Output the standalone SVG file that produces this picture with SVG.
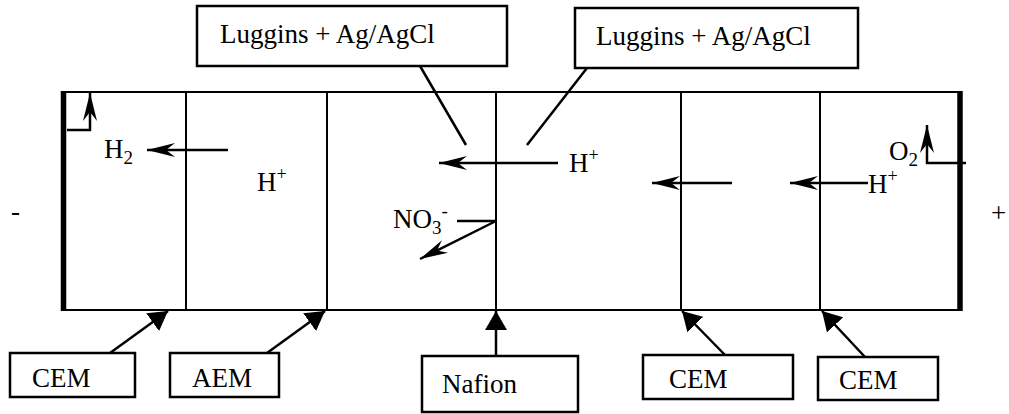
<svg xmlns="http://www.w3.org/2000/svg" width="1009" height="414" viewBox="0 0 1009 414">
<defs>
<style>
.t{font-family:'Liberation Serif','Times New Roman',Tinos,'DejaVu Serif',serif;font-size:27px;fill:#000}
.box{fill:#fff;stroke:#000;stroke-width:2.5}
.ln{fill:none;stroke:#000;stroke-width:2.5}
.wall{fill:none;stroke:#000;stroke-width:2}
.thick{fill:none;stroke:#000;stroke-width:5.5}
.ar{fill:none;stroke:#000;stroke-width:2.5;marker-end:url(#barb)}
.tr{fill:none;stroke:#000;stroke-width:2.5;marker-end:url(#tri)}
</style>
<marker id="barb" markerUnits="userSpaceOnUse" markerWidth="30" markerHeight="14" refX="28" refY="7" orient="auto" viewBox="0 0 30 14">
<path d="M0,0 L28,7 L0,14 L9,7 z" fill="#000"/>
</marker>
<marker id="tri" markerUnits="userSpaceOnUse" markerWidth="20" markerHeight="22" refX="19" refY="11" orient="auto" viewBox="0 0 20 22">
<path d="M0,0 L19,11 L0,22 z" fill="#000"/>
</marker>
</defs>
<rect width="1009" height="414" fill="#fff"/>

<g id="cell">
<line class="wall" x1="63" y1="92" x2="960" y2="92"/>
<line class="wall" x1="63" y1="310" x2="960" y2="310"/>
<line class="thick" x1="63.5" y1="91" x2="63.5" y2="311"/>
<line class="thick" x1="960" y1="91" x2="960" y2="311"/>
<line class="wall" x1="186" y1="92" x2="186" y2="310"/>
<line class="wall" x1="327" y1="92" x2="327" y2="310"/>
<line class="wall" x1="496" y1="92" x2="496" y2="310"/>
<line class="wall" x1="681" y1="92" x2="681" y2="310"/>
<line class="wall" x1="820" y1="92" x2="820" y2="310"/>
</g>

<g id="labels">
<text class="t" x="104" y="158">H<tspan font-size="19" dy="6">2</tspan></text>
<text class="t" x="257" y="191">H<tspan font-size="18" dy="-11">+</tspan></text>
<text class="t" x="569" y="172">H<tspan font-size="18" dy="-11">+</tspan></text>
<text class="t" x="868" y="193">H<tspan font-size="18" dy="-11">+</tspan></text>
<text class="t" x="889" y="160">O<tspan font-size="19" dy="6">2</tspan></text>
<text class="t" x="393" y="228">NO<tspan font-size="19" dy="6">3</tspan><tspan font-size="19" dy="-17">-</tspan></text>
<text class="t" x="11" y="220">-</text>
<text class="t" x="991" y="222">+</text>
</g>

<g id="luggins1">
<rect class="box" x="197" y="6" width="310" height="60"/>
<text class="t" x="220" y="43">Luggins + Ag/AgCl</text>
</g>
<g id="luggins2">
<rect class="box" x="575" y="8" width="283" height="60"/>
<text class="t" x="596" y="45">Luggins + Ag/AgCl</text>
</g>
<g id="cem1">
<rect class="box" x="10" y="353" width="125" height="44"/>
<text class="t" x="32" y="387">CEM</text>
</g>
<g id="aem">
<rect class="box" x="170" y="353" width="109" height="44"/>
<text class="t" x="192" y="387">AEM</text>
</g>
<g id="nafion">
<rect class="box" x="422" y="356" width="156" height="56"/>
<text class="t" x="442" y="393">Nafion</text>
</g>
<g id="cem3">
<rect class="box" x="643" y="355" width="150" height="44"/>
<text class="t" x="669" y="388">CEM</text>
</g>
<g id="cem4">
<rect class="box" x="818" y="357" width="120" height="43"/>
<text class="t" x="839" y="389">CEM</text>
</g>

<g id="connectors">
<line class="ln" x1="420" y1="66" x2="466" y2="145"/>
<line class="ln" x1="587" y1="68" x2="527" y2="145"/>
<line class="ar" x1="228" y1="150" x2="147" y2="150"/>
<path class="ar" d="M67,130 H90 V93"/>
<line class="ar" x1="558" y1="163" x2="439" y2="163"/>
<line class="ar" x1="732" y1="183" x2="652" y2="183"/>
<line class="ar" x1="868" y1="183" x2="790" y2="183"/>
<path class="ar" d="M966,163 H927 V125"/>
<line class="ln" x1="457" y1="221" x2="496" y2="221"/>
<line class="ar" x1="496" y1="221" x2="420" y2="259"/>
<line class="tr" x1="110" y1="353" x2="168" y2="311"/>
<line class="tr" x1="267" y1="353" x2="325" y2="311"/>
<line class="tr" x1="496" y1="356" x2="496" y2="311"/>
<line class="tr" x1="725" y1="355" x2="682" y2="311"/>
<line class="tr" x1="865" y1="357" x2="822" y2="311"/>
</g>
</svg>
